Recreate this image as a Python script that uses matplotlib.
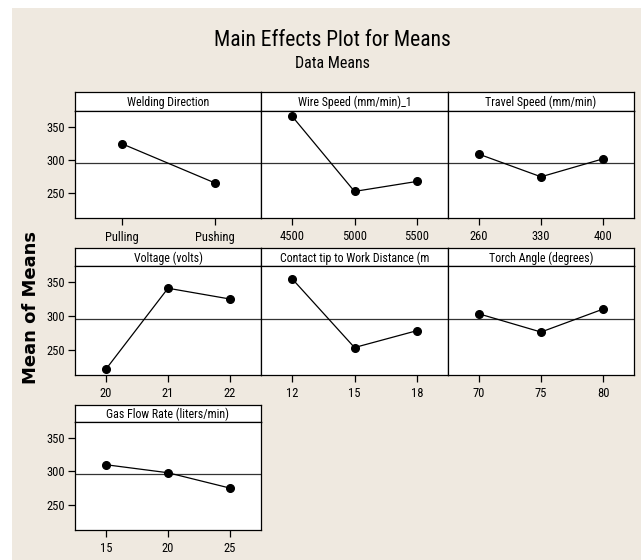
import matplotlib
matplotlib.use("Agg")
import matplotlib.pyplot as plt
from matplotlib import font_manager
from matplotlib.patches import Rectangle

# pick a narrow sans face if one is installed
names = {f.name for f in font_manager.fontManager.ttflist}
family = "DejaVu Sans"
for cand in ["Liberation Sans Narrow", "DejaVu Sans Condensed", "Roboto Condensed"]:
    if cand in names:
        family = cand
        break
plt.rcParams["font.family"] = [family, "DejaVu Sans"]

factors = [
    "Welding Direction",
    "Wire Speed (mm/min)_1",
    "Travel Speed (mm/min)",
    "Voltage (volts)",
    "Contact tip to Work Distance (m",
    "Torch Angle (degrees)",
    "Gas Flow Rate (liters/min)",
]
levels = [
    ["Pulling", "Pushing"],
    ["4500", "5000", "5500"],
    ["260", "330", "400"],
    ["20", "21", "22"],
    ["12", "15", "18"],
    ["70", "75", "80"],
    ["15", "20", "25"],
]
means = [
    [325, 266],
    [366, 253, 268],
    [309, 275, 302],
    [221, 341, 325],
    [355, 253, 278],
    [303, 276, 310],
    [310, 298, 275],
]
grand_mean = 295.5
yticks = [250, 300, 350]

W, H = 641, 560
fig = plt.figure(figsize=(W / 100, H / 100), dpi=100)
fig.patch.set_facecolor("white")
bg = "#efe9e0"
fig.patches.append(Rectangle((12 / W, 0), 1, 1 - 8 / H, transform=fig.transFigure,
                             facecolor=bg, edgecolor="none", zorder=-10))


def px_axes(x0, y0, x1, y1):
    return fig.add_axes([x0 / W, 1 - y1 / H, (x1 - x0) / W, (y1 - y0) / H])


col_x = [75, 261, 448, 634]
row_y = [(91.5, 111, 218), (248, 266, 374.5), (404.5, 422, 529.5)]

for i, name in enumerate(factors):
    r, c = divmod(i, 3)
    x0, x1 = col_x[c], col_x[c + 1]
    s_top, p_top, p_bot = row_y[r]

    # header strip
    hx = px_axes(x0, s_top, x1, p_top)
    hx.set_xticks([])
    hx.set_yticks([])
    hx.set_facecolor("white")
    hx.text(0.5, 0.45, name, ha="center", va="center", fontsize=8.6,
            transform=hx.transAxes)

    ax = px_axes(x0, p_top, x1, p_bot)
    ax.set_facecolor("white")
    xs = list(range(len(levels[i])))
    ax.axhline(grand_mean, color="#333333", lw=0.9, zorder=1)
    ax.plot(xs, means[i], color="black", lw=0.9, marker="o", markersize=5.5, zorder=3)
    ax.set_xlim(-0.5, len(xs) - 0.5)
    ax.set_ylim(213, 374)
    ax.set_xticks(xs)
    ax.set_xticklabels(levels[i])
    ax.tick_params(axis="x", length=5, width=0.9, pad=4, labelsize=9)
    if c == 0:
        ax.set_yticks(yticks)
        ax.tick_params(axis="y", length=5, width=0.9, pad=2, labelsize=9)
    else:
        ax.set_yticks([])
    for sp in list(ax.spines.values()) + list(hx.spines.values()):
        sp.set_linewidth(0.9)

fig.text(332 / W, 1 - 41 / H, "Main Effects Plot for Means", ha="center", va="center",
         fontsize=15.5)
fig.text(332 / W, 1 - 64 / H, "Data Means", ha="center", va="center", fontsize=11.5)
fig.text(31 / W, 1 - 308 / H, "Mean of Means", ha="center", va="center", rotation=90,
         fontsize=13, fontweight="bold", family="DejaVu Sans")

fig.savefig("out.png", dpi=100, facecolor=fig.get_facecolor())
